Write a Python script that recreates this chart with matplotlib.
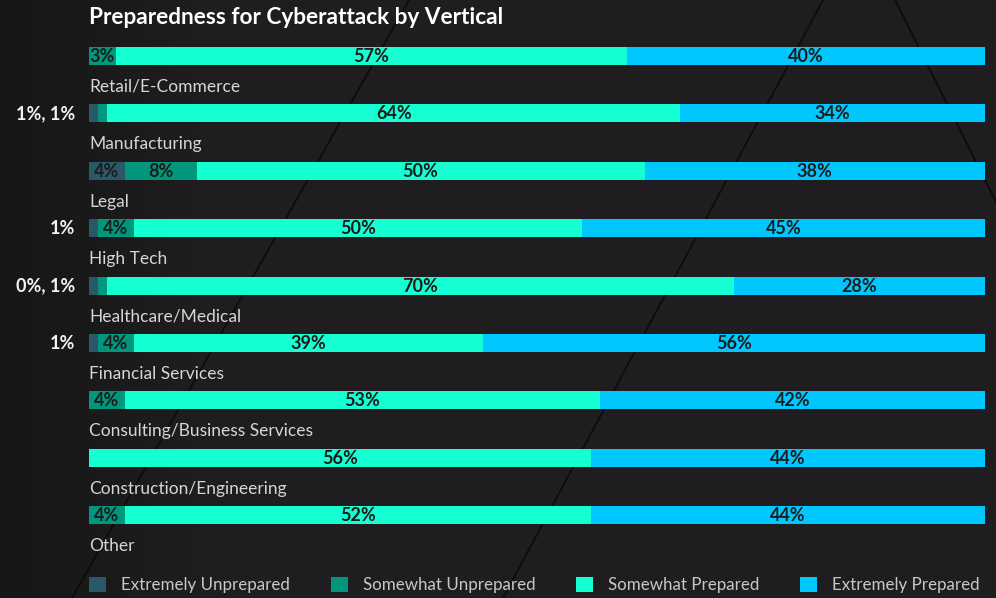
import numpy as np
import matplotlib
matplotlib.use("Agg")
import matplotlib.pyplot as plt
from matplotlib.patches import Patch
from matplotlib.lines import Line2D

plt.rcParams['font.family'] = ['Lato', 'DejaVu Sans']

title = "Preparedness for Cyberattack by Vertical"
# labels printed under each bar row (as in the reference layout)
row_labels = ["Retail/E-Commerce", "Manufacturing", "Legal", "High Tech",
              "Healthcare/Medical", "Financial Services",
              "Consulting/Business Services", "Construction/Engineering", "Other"]
series = ["Extremely Unprepared", "Somewhat Unprepared", "Somewhat Prepared", "Extremely Prepared"]
colors = ["#2a5868", "#00977c", "#14ffd2", "#00c8ff"]

# segment sizes (%)
extremely_unprepared = [0, 1, 4, 1, 1, 1, 0, 0, 0]
somewhat_unprepared = [3, 1, 8, 4, 1, 4, 4, 0, 4]
somewhat_prepared = [57, 64, 50, 50, 70, 39, 53, 56, 52]
extremely_prepared = [40, 34, 38, 45, 28, 56, 42, 44, 44]
# displayed text for each segment ("" = no text inside the bar)
eu_text = ["", "", "4%", "", "", "", "", "", ""]
su_text = ["3%", "", "8%", "4%", "", "4%", "4%", "", "4%"]
left_text = ["", "1%, 1%", "", "1%", "0%, 1%", "1%", "", "", ""]

first3 = np.array([extremely_unprepared, somewhat_unprepared, somewhat_prepared], dtype=float).T
# last segment fills the bar to 100%
widths = np.column_stack([first3, 100 - first3.sum(axis=1)])
texts = [eu_text, su_text,
         [f"{v}%" for v in somewhat_prepared],
         [f"{v}%" for v in extremely_prepared]]

W, H = 996, 598
BG = "#1f1d1f"
fig = plt.figure(figsize=(W / 100, H / 100), dpi=100)
fig.patch.set_facecolor(BG)

# background with subtle left gradient
bg = fig.add_axes([0, 0, 1, 1], zorder=0)
x = np.linspace(0, 1, 200)
shade = np.clip(x / 0.2, 0, 1)
c0 = np.array([0x17, 0x17, 0x17]) / 255
c1 = np.array([0x1f, 0x1d, 0x1f]) / 255
row = c0[None, :] * (1 - shade[:, None]) + c1[None, :] * shade[:, None]
grad = np.repeat(row[None, :, :], 10, axis=0)
bg.imshow(grad, extent=[0, 1, 0, 1], aspect='auto')
bg.set_xlim(0, 1); bg.set_ylim(0, 1)
bg.axis('off')
# decorative diagonal lines (figure pixel space)
for (x0, y0, x1, y1) in [(823, 0, 503, 598), (409, 0, 72, 598), (895, 0, 1000, 210)]:
    bg.add_line(Line2D([x0 / W, x1 / W], [1 - y0 / H, 1 - y1 / H],
                       color="#0c0c0c", lw=1.3))

# main axes: x 0..100 -> px 89..985 ; rows centered at 56 + 57.375*i px
row_h = 57.375
y_top = (0 - 56) / row_h
y_bot = (H - 56) / row_h
ax = fig.add_axes([89 / W, 0, 896 / W, 1], zorder=2)
ax.patch.set_alpha(0)
ax.set_xlim(0, 100)
ax.set_ylim(y_bot, y_top)
ax.axis('off')

n = len(row_labels)
ypos = np.arange(n)
bar_h = 18 / row_h
left = np.zeros(n)
for k in range(4):
    ax.barh(ypos, widths[:, k], left=left, height=bar_h, color=colors[k],
            edgecolor='none', label=series[k])
    for i in range(n):
        t = texts[k][i]
        if t and widths[i, k] > 0:
            ax.text(left[i] + widths[i, k] / 2, ypos[i] + 0.01, t, ha='center', va='center',
                    fontsize=13, fontweight='bold', color="#1c1c1c")
    left += widths[:, k]

for i in range(n):
    ax.text(0, ypos[i] + 0.54, row_labels[i], ha='left', va='center',
            fontsize=12.5, color="#d6d6d6", clip_on=False)
    if left_text[i]:
        ax.text(-1.55, ypos[i] + 0.01, left_text[i], ha='right', va='center',
                fontsize=13, fontweight='bold', color="#f2f2f2", clip_on=False)

ax.text(0, (18 - 56) / row_h, title, ha='left', va='center', fontsize=16.3,
        fontweight='bold', color="#ffffff", clip_on=False)

handles = [Patch(facecolor=c, edgecolor='none') for c in colors]
leg = ax.legend(handles, series, ncol=4, frameon=False, loc='center left',
                bbox_to_anchor=(0, 1 - 585 / H), fontsize=12.2,
                handlelength=1.0, handleheight=1.0, handletextpad=0.88,
                columnspacing=2.42, borderaxespad=0, borderpad=0)
for t in leg.get_texts():
    t.set_color("#c8c8c8")

fig.savefig("out.png", dpi=100, facecolor=BG)
